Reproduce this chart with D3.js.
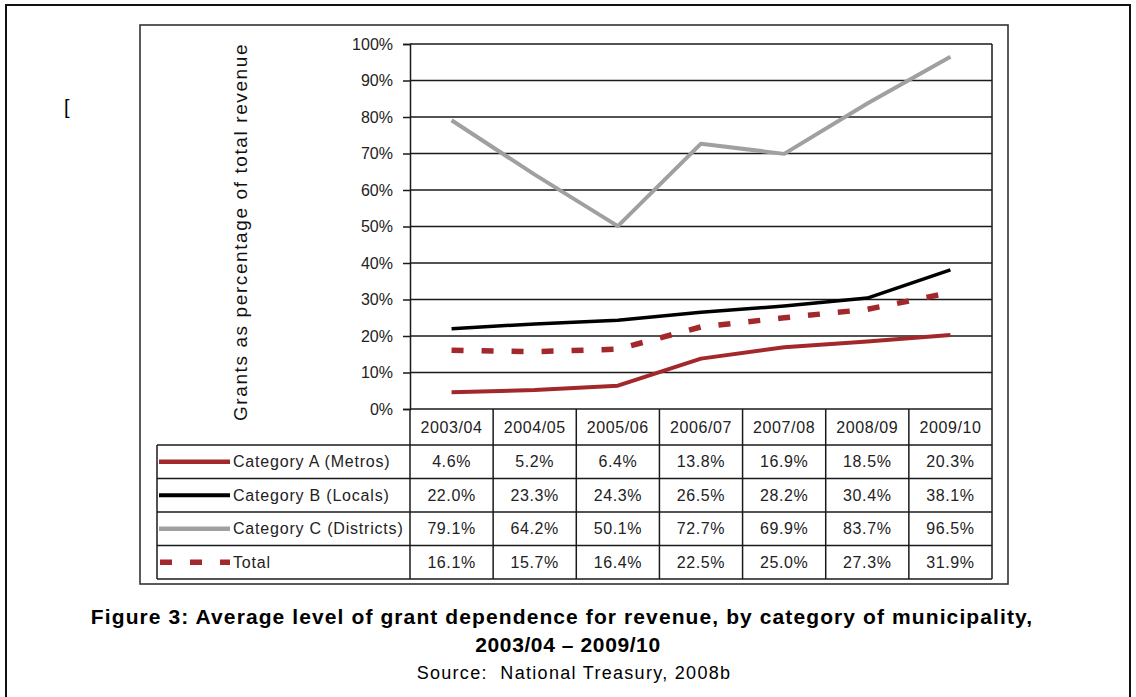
<!DOCTYPE html>
<html>
<head>
<meta charset="utf-8">
<script src="https://cdn.jsdelivr.net/npm/d3@7"></script>
<style>
  body { margin: 0; background: #fff; }
  svg { display: block; font-family: "Liberation Sans", Arial, sans-serif; }
</style>
</head>
<body>
<svg width="1136" height="697"></svg>
<script>
// data
var years = ['2003/04', '2004/05', '2005/06', '2006/07', '2007/08', '2008/09', '2009/10'];
var seriesNames = ['Category A (Metros)', 'Category B (Locals)', 'Category C (Districts)', 'Total'];
var catA = [4.6, 5.2, 6.4, 13.8, 16.9, 18.5, 20.3];
var catB = [22.0, 23.3, 24.3, 26.5, 28.2, 30.4, 38.1];
var catC = [79.1, 64.2, 50.1, 72.7, 69.9, 83.7, 96.5];
var total = [16.1, 15.7, 16.4, 22.5, 25.0, 27.3, 31.9];
var yTicks = [0, 10, 20, 30, 40, 50, 60, 70, 80, 90, 100];

var series = [
  {name: seriesNames[0], values: catA, color: '#a3282b', width: 4, dash: null},
  {name: seriesNames[1], values: catB, color: '#000000', width: 3.5, dash: null},
  {name: seriesNames[2], values: catC, color: '#a0a0a0', width: 4, dash: null},
  {name: seriesNames[3], values: total, color: '#a3282b', width: 5.5, dash: '12,18'}
];

var svg = d3.select('svg');
var plot = {left: 410, right: 992, top: 44, bottom: 409};
var legendLeft = 157;
var rowH = 33.5;
var headH = 36;

// outer page frame
svg.append('path')
  .attr('d', 'M6,700 V5 H1130 V700')
  .attr('fill', 'none')
  .attr('stroke', '#111')
  .attr('stroke-width', 2);

svg.append('text')
  .attr('x', 64)
  .attr('y', 114)
  .attr('font-size', 20)
  .text('[');

// chart frame
svg.append('rect')
  .attr('x', 140).attr('y', 25)
  .attr('width', 868).attr('height', 559)
  .attr('fill', '#fff')
  .attr('stroke', '#333')
  .attr('stroke-width', 1.6);

var x = d3.scaleBand()
  .domain(years)
  .range([plot.left, plot.right]);

var y = d3.scaleLinear()
  .domain([0, 100])
  .range([plot.bottom, plot.top]);

// gridlines
svg.append('g')
  .selectAll('line')
  .data(yTicks)
  .enter().append('line')
  .attr('x1', plot.left)
  .attr('x2', plot.right)
  .attr('y1', function(d) { return y(d); })
  .attr('y2', function(d) { return y(d); })
  .attr('stroke', '#1a1a1a')
  .attr('stroke-width', 1.5);

svg.append('line')
  .attr('x1', plot.right).attr('x2', plot.right)
  .attr('y1', plot.top).attr('y2', plot.bottom)
  .attr('stroke', '#1a1a1a').attr('stroke-width', 1.5);

var yAxis = d3.axisLeft(y)
  .tickValues(yTicks)
  .tickFormat(function(d) { return d + '%'; })
  .tickSize(7)
  .tickPadding(10);

var gy = svg.append('g')
  .attr('transform', 'translate(' + plot.left + ',0)')
  .call(yAxis);
gy.select('.domain').attr('stroke', '#1a1a1a').attr('stroke-width', 1.5);
gy.selectAll('.tick line').attr('stroke', '#1a1a1a').attr('stroke-width', 1.5);
gy.selectAll('.tick text')
  .attr('font-size', 16)
  .attr('fill', '#222')
  .attr('font-family', '"Liberation Sans", Arial, sans-serif');

// y axis title
svg.append('text')
  .attr('transform', 'translate(247,232) rotate(-90)')
  .attr('text-anchor', 'middle')
  .attr('font-size', 19)
  .attr('letter-spacing', 1.6)
  .attr('fill', '#111')
  .text('Grants as percentage of total revenue');

// lines
var line = d3.line()
  .x(function(d, i) { return x(years[i]) + x.bandwidth() / 2; })
  .y(function(d) { return y(d); });

svg.append('g')
  .selectAll('path')
  .data([series[2], series[1], series[0], series[3]])
  .enter().append('path')
  .attr('d', function(s) { return line(s.values); })
  .attr('fill', 'none')
  .attr('stroke', function(s) { return s.color; })
  .attr('stroke-width', function(s) { return s.width; })
  .attr('stroke-dasharray', function(s) { return s.dash; })
  .attr('stroke-linejoin', 'round');

// data table
var table = svg.append('g');
var tableTop = plot.bottom;
var rowsTop = tableTop + headH;
var tableBottom = rowsTop + rowH * series.length;
var tStroke = '#1a1a1a';

// header verticals
table.selectAll('line.col')
  .data(years.concat(['end']))
  .enter().append('line')
  .attr('class', 'col')
  .attr('x1', function(d, i) { return plot.left + i * x.bandwidth(); })
  .attr('x2', function(d, i) { return plot.left + i * x.bandwidth(); })
  .attr('y1', tableTop)
  .attr('y2', tableBottom)
  .attr('stroke', tStroke)
  .attr('stroke-width', 1.5);

// row lines
table.selectAll('line.row')
  .data(d3.range(series.length + 1))
  .enter().append('line')
  .attr('class', 'row')
  .attr('x1', legendLeft)
  .attr('x2', plot.right)
  .attr('y1', function(d) { return rowsTop + d * rowH; })
  .attr('y2', function(d) { return rowsTop + d * rowH; })
  .attr('stroke', tStroke)
  .attr('stroke-width', 1.5);

table.append('line')
  .attr('x1', legendLeft).attr('x2', legendLeft)
  .attr('y1', rowsTop).attr('y2', tableBottom)
  .attr('stroke', tStroke).attr('stroke-width', 1.5);

table.selectAll('text.year')
  .data(years)
  .enter().append('text')
  .attr('class', 'year')
  .attr('x', function(d) { return x(d) + x.bandwidth() / 2; })
  .attr('y', tableTop + headH / 2)
  .attr('dy', '0.35em')
  .attr('text-anchor', 'middle')
  .attr('font-size', 16)
  .attr('letter-spacing', 0.6)
  .attr('fill', '#222')
  .text(function(d) { return d; });

var rows = table.selectAll('g.srow')
  .data(series)
  .enter().append('g')
  .attr('class', 'srow')
  .attr('transform', function(d, i) { return 'translate(0,' + (rowsTop + i * rowH + rowH / 2) + ')'; });

rows.append('line')
  .attr('x1', function(s) { return s.dash ? 160 : 159; })
  .attr('x2', 230)
  .attr('y1', 0).attr('y2', 0)
  .attr('stroke', function(s) { return s.color; })
  .attr('stroke-width', function(s) { return s.dash ? 5.5 : s.width + 0.5; })
  .attr('stroke-dasharray', function(s) { return s.dash; });

rows.append('text')
  .attr('x', 233)
  .attr('dy', '0.35em')
  .attr('font-size', 16)
  .attr('letter-spacing', 0.8)
  .attr('fill', '#222')
  .text(function(s) { return s.name; });

rows.selectAll('text.val')
  .data(function(s) { return s.values; })
  .enter().append('text')
  .attr('class', 'val')
  .attr('x', function(d, i) { return x(years[i]) + x.bandwidth() / 2; })
  .attr('dy', '0.35em')
  .attr('text-anchor', 'middle')
  .attr('font-size', 16)
  .attr('letter-spacing', 0.6)
  .attr('fill', '#222')
  .text(function(d) { return d.toFixed(1) + '%'; });

// caption
var cap = svg.append('g').attr('text-anchor', 'middle');
cap.append('text')
  .attr('x', 562).attr('y', 624)
  .attr('font-size', 21).attr('font-weight', 'bold')
  .attr('letter-spacing', 1.1)
  .text('Figure 3: Average level of grant dependence for revenue, by category of municipality,');
cap.append('text')
  .attr('x', 568).attr('y', 652)
  .attr('font-size', 21).attr('font-weight', 'bold')
  .attr('letter-spacing', 0.6)
  .text('2003/04 \u2013 2009/10');
cap.append('text')
  .attr('x', 574).attr('y', 679)
  .attr('font-size', 18)
  .attr('letter-spacing', 1.3)
  .style('white-space', 'pre')
  .text('Source:  National Treasury, 2008b');
</script>
</body>
</html>
